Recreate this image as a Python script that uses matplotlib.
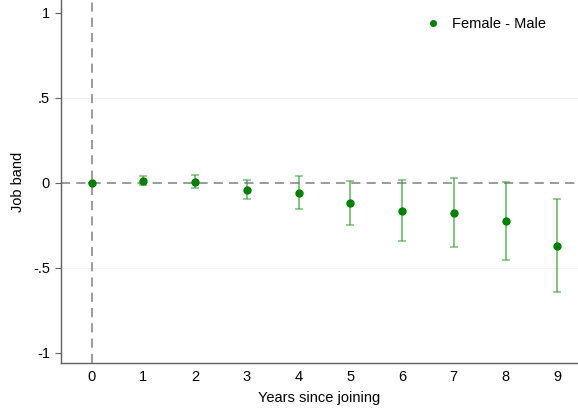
import numpy as np
import matplotlib.pyplot as plt

plt.rcParams['font.family'] = ['Liberation Sans', 'DejaVu Sans']

# data
years = [0, 1, 2, 3, 4, 5, 6, 7, 8, 9]
coef = [0.0, 0.012, 0.006, -0.039, -0.059, -0.120, -0.163, -0.176, -0.222, -0.371]
ci_hi = [0.0, 0.041, 0.045, 0.019, 0.041, 0.014, 0.016, 0.027, 0.008, -0.096]
ci_lo = [0.0, -0.014, -0.028, -0.096, -0.155, -0.249, -0.341, -0.378, -0.451, -0.643]

yticks = [-1, -0.5, 0, 0.5, 1]
ytick_labels = ['-1', '-.5', '0', '.5', '1']

coef = np.array(coef)
err = [coef - np.array(ci_lo), np.array(ci_hi) - coef]

fig = plt.figure(figsize=(5.78, 4.15), dpi=100)
ax = fig.add_axes([0.1047, 0.125, 0.8953, 0.875])

for y in [-0.5, 0.5]:
    ax.axhline(y, color='#f2f2f2', lw=0.8, zorder=0)
ax.axhline(0, color='#808080', lw=1.1, ls=(0, (6, 4)), zorder=1)
ax.axvline(0, color='#808080', lw=1.1, ls=(0, (6, 4)), zorder=1)

ax.errorbar(years, coef, yerr=err, fmt='none', ecolor='#2ca02c', alpha=0.65,
            elinewidth=1.3, capsize=3, capthick=1.1, zorder=2)
ax.plot(years, coef, 'o', color='#008000', ms=5, label='Female - Male', zorder=3)

ax.set_xlim(-0.6, 9.4)
ax.set_ylim(-1.06, 1.076)
ax.set_xticks(years)
ax.set_yticks(yticks)
ax.set_yticklabels(ytick_labels)
ax.tick_params(axis='x', length=0, labelsize=10.5, pad=5)
ax.tick_params(axis='y', length=4, labelsize=10.5, color='#606060')
ax.set_xlabel('Years since joining', fontsize=10.5, labelpad=5)
ax.set_ylabel('Job band', fontsize=10.5, labelpad=6)

for s in ['top', 'right']:
    ax.spines[s].set_visible(False)
for s in ['left', 'bottom']:
    ax.spines[s].set_color('#606060')
    ax.spines[s].set_linewidth(1.0)

ax.legend(loc='upper right', frameon=False, fontsize=10.5, handletextpad=0.3,
          markerscale=0.8, bbox_to_anchor=(0.964, 0.99))

plt.savefig('out.png', dpi=100)
